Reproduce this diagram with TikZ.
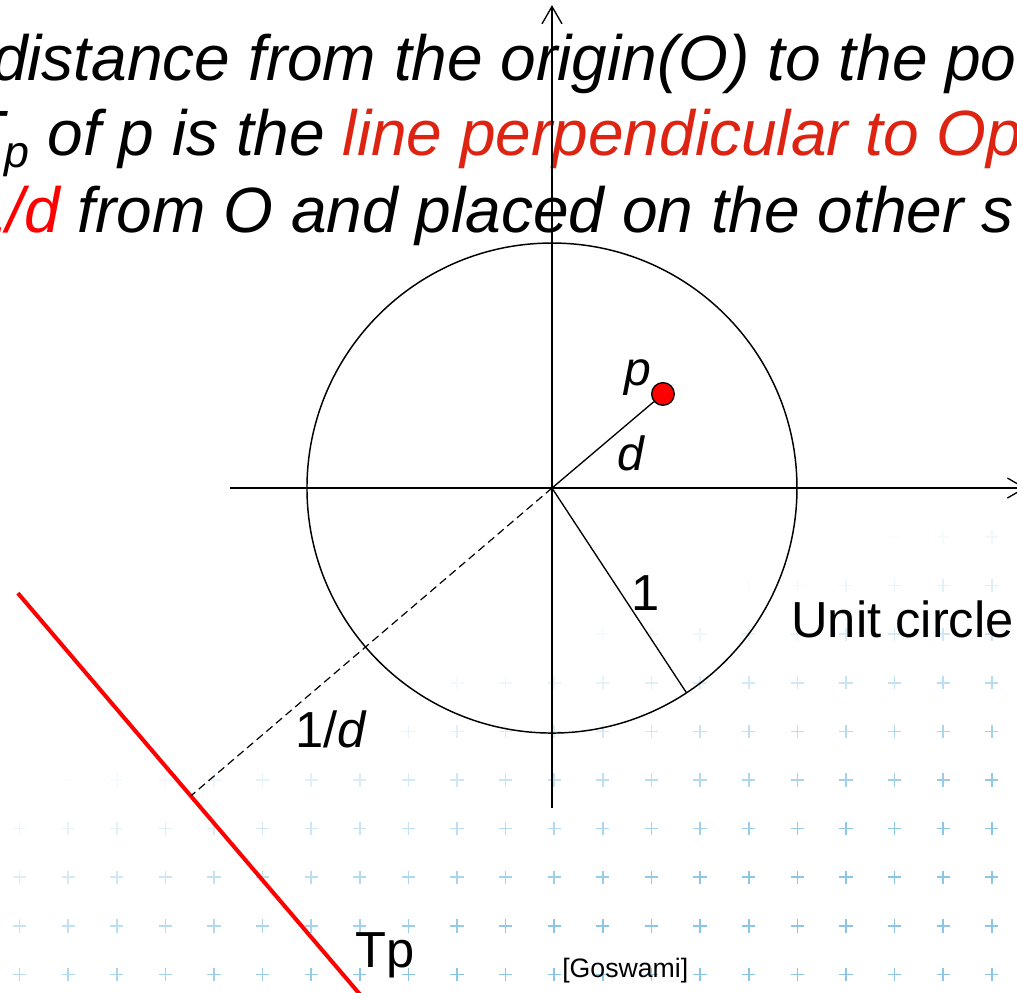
\documentclass[tikz,border=0pt]{standalone}
\usepackage{fontspec}
\setmainfont{Liberation Sans}
\usetikzlibrary{arrows.meta,calc}
\definecolor{perpred}{RGB}{221,36,18}
\definecolor{gridblue}{RGB}{140,198,230}

\begin{document}
\begin{tikzpicture}[
        x=183.75pt, y=183.75pt,
        axis/.style={line width=1pt, -{Straight Barb[length=13pt,width=15pt]}},
        headline/.style={anchor=base west, inner sep=0pt,
          font=\fontsize{48}{58}\selectfont\itshape},
        lbl/.style={inner sep=0pt, font=\fontsize{38}{46}\selectfont},
        var/.style={inner sep=0pt, anchor=base,
          font=\fontsize{36}{44}\selectfont\itshape},
        dot/.style={circle, draw, line width=1pt, fill=red,
          minimum size=17pt, inner sep=0pt},
        plus/.style={gridblue, line width=1.2pt}
      ]
      \useasboundingbox (-2.253,-2.057) rectangle (1.898,1.992);
      \clip (-2.253,-2.057) rectangle (1.898,1.992);

      % background grid of crosses, fading to the upper left
      \foreach \i in {0,...,20}
        \foreach \j in {0,...,9} {
          \pgfmathsetmacro\px{-2.173+0.1984*\i}
          \pgfmathsetmacro\py{-0.200-0.1984*\j}
          \pgfmathsetmacro\op{max(0,min(1,(245*\px-833*\py-480)/1000))}
          \draw[plus, opacity=\op] (\px-0.027,\py) -- ++(0.054,0)
            (\px,\py-0.027) -- ++(0,0.054);
        }

      % text
      \node[headline] (line1) at (-2.286,1.665)
        {distance from the origin(O) to the po};
      \node[headline] (line2) at (-2.396,1.359)
        {T\textsubscript{p} of p is the \textcolor{perpred}{line perpendicular to Op}};
      \node[headline] (line3) at (-2.372,1.045)
        {\textcolor{red}{1/d} from O and placed on the other s};

      % axes and unit circle
      \coordinate (O) at (0,0);
      \coordinate (xl) at (-1.314,0);
      \coordinate (xr) at (1.935,0);
      \coordinate (yb) at (0,-1.306);
      \coordinate (yt) at (0,1.971);
      \draw[axis] (xl) -- (xr);
      \draw[axis] (yb) -- (yt);
      \draw[line width=1.1pt] (O) circle (1);

      % point p and its distance d
      \node[dot] (p) at (0.453,0.384) {};
      \draw[line width=1pt] (O) -- (p);
      \node[var] (plbl) at (0.351,0.420) {p};
      \node[var] (dlbl) at (0.322,0.073) {d};

      % radius
      \coordinate (R) at (-56.7:1);
      \draw[line width=1pt] (O) -- (R);
      \node[lbl, anchor=base] (one) at (0.384,-0.498) {1};
      \node[lbl, anchor=base west] (unit) at (0.976,-0.612) {Unit circle};

      % polar line Tp
      \coordinate (tpa) at (-2.180,-0.429);
      \coordinate (tpb) at (-0.723,-2.138);
      \coordinate (F) at ($(tpa)!(O)!(tpb)$);
      \draw[red, line width=3pt] (tpa) -- (tpb);
      \draw[dashed, line width=0.9pt, dash pattern=on 6pt off 3.5pt] (O) -- (F);
      \node[lbl, anchor=base west] (inv) at (-1.049,-1.061) {1/\textit{d}};
      \node[lbl, anchor=base west] (tp) at (-0.804,-1.957) {Tp};

      \node[inner sep=0pt, anchor=base west, font=\fontsize{20}{24}\selectfont]
        (src) at (0.041,-1.996) {[Goswami]};
    \end{tikzpicture}
\end{document}
